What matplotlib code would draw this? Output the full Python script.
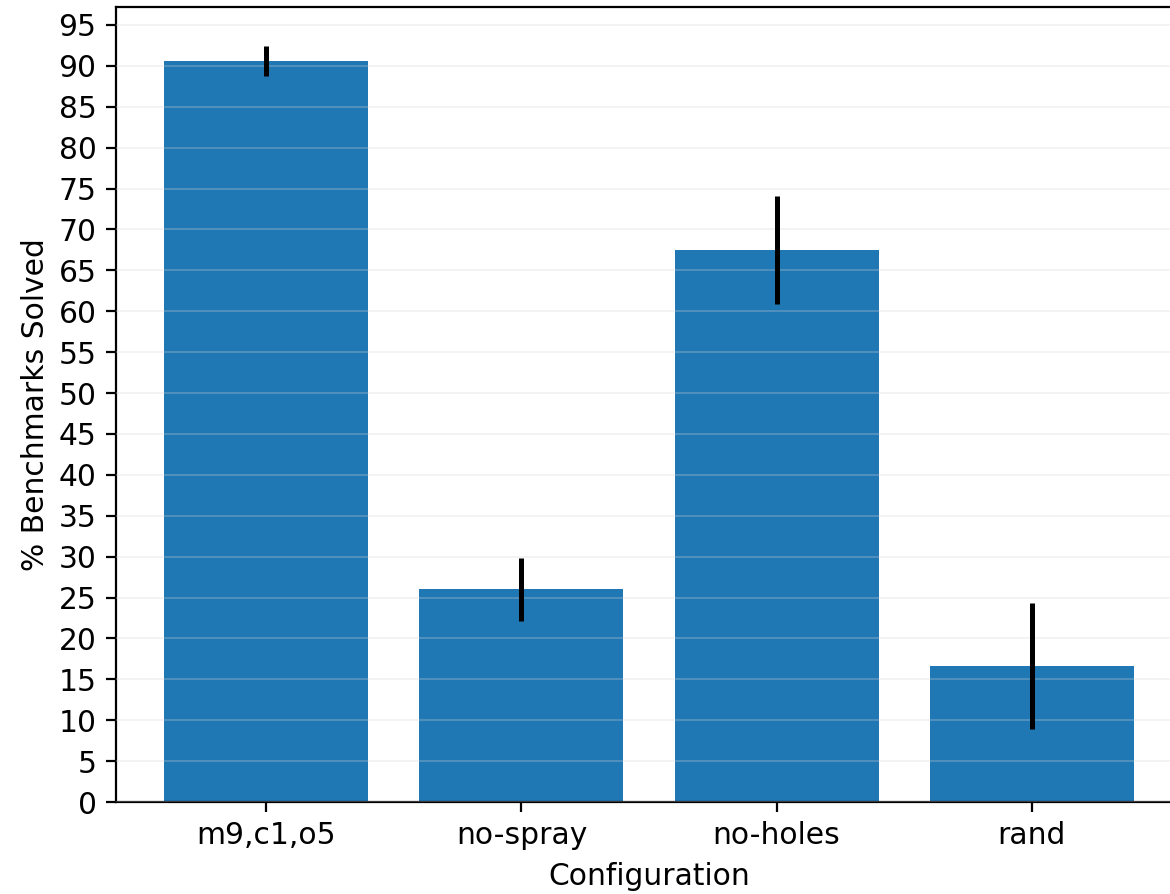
import numpy as np
import matplotlib
matplotlib.use("Agg")
import matplotlib.pyplot as plt

# data
configs = ["m9,c1,o5", "no-spray", "no-holes", "rand"]
solved_pct = [90.6, 26.0, 67.5, 16.6]
solved_err = [1.8, 3.85, 6.6, 7.7]

fig = plt.figure(figsize=(11.7, 8.94), dpi=100)
ax = fig.add_axes([0.0991, 0.1029, 0.9112, 0.8893])

x = np.arange(len(configs))
ax.bar(x, solved_pct, width=0.8, color="#1f77b4", zorder=1)
ax.errorbar(x, solved_pct, yerr=solved_err, fmt="none", ecolor="black",
            elinewidth=3.6, capsize=0, zorder=3)

ax.set_ylim(0, 97.2)
ax.set_yticks(np.arange(0, 96, 5))
ax.set_xticks(x)
ax.set_xticklabels(configs)
# faint grid drawn over the bars
ax.yaxis.grid(True, color="#d3d3d3", alpha=0.28, linewidth=1.4, zorder=2)
ax.set_axisbelow(False)

ax.tick_params(labelsize=21.4, length=7, width=1.6, pad=7)
ax.set_xlabel("Configuration", fontsize=21.4, labelpad=8)
ax.set_ylabel("% Benchmarks Solved", fontsize=21.4, labelpad=6)
for s in ax.spines.values():
    s.set_linewidth(1.6)

fig.savefig("out.png", dpi=100)
